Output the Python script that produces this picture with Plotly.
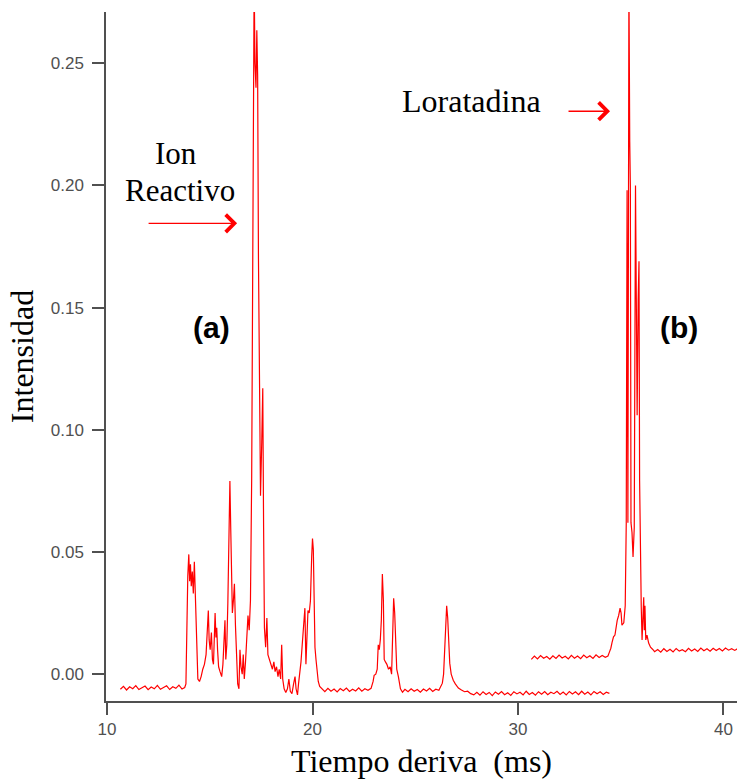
import plotly.graph_objects as go

# ---- Data ----
# Trace (a): ion reactivo spectrum
a_time = [
    10.65, 10.80, 10.95, 11.10, 11.25, 11.40, 11.55, 11.70, 11.85, 12.00, 12.15,
    12.30, 12.45, 12.60, 12.75, 12.90, 13.05, 13.20, 13.35, 13.50, 13.65, 13.78,
    13.84, 13.88, 13.93, 13.98, 14.02, 14.06, 14.10, 14.15, 14.20, 14.25, 14.30,
    14.36, 14.42, 14.50, 14.58, 14.66, 14.74, 14.82, 14.88, 14.93, 14.97, 15.02,
    15.08, 15.13, 15.18, 15.22, 15.26, 15.30, 15.34, 15.38, 15.43, 15.50, 15.58,
    15.64, 15.70, 15.74, 15.78, 15.83, 15.88, 15.93, 15.98, 16.02, 16.06, 16.10,
    16.15, 16.20, 16.25, 16.30, 16.36, 16.42, 16.47, 16.52, 16.58, 16.63, 16.68,
    16.74, 16.80, 16.86, 16.92, 16.98, 17.04, 17.10, 17.16, 17.20, 17.25, 17.29,
    17.33, 17.37, 17.42, 17.47, 17.53, 17.58, 17.62, 17.66, 17.72, 17.78, 17.83,
    17.90, 17.98, 18.05, 18.12, 18.18, 18.25, 18.32, 18.38, 18.45, 18.50, 18.55,
    18.62, 18.70, 18.78, 18.85, 18.92, 19.00, 19.08, 19.15, 19.20, 19.27, 19.32,
    19.38, 19.44, 19.50, 19.57, 19.63, 19.68, 19.73, 19.78, 19.84, 19.90, 19.96,
    20.00, 20.04, 20.08, 20.12, 20.17, 20.22, 20.28, 20.35,
    20.45, 20.60, 20.75, 20.90, 21.05, 21.20, 21.35, 21.50, 21.65, 21.80, 21.95,
    22.10, 22.25, 22.40, 22.55, 22.70, 22.85,
    22.95, 23.00, 23.08, 23.15, 23.20, 23.25, 23.30, 23.35, 23.40, 23.45, 23.49,
    23.55, 23.62, 23.70, 23.78, 23.85, 23.90, 23.95, 24.00, 24.05, 24.10, 24.18,
    24.28, 24.38,
    24.50, 24.65, 24.80, 24.95, 25.10, 25.25, 25.40, 25.55, 25.70, 25.85, 26.00,
    26.15,
    26.25, 26.32, 26.38, 26.43, 26.48, 26.53, 26.58, 26.63, 26.68, 26.75, 26.85,
    26.95, 27.10, 27.25, 27.40, 27.55, 27.70,
    27.85, 28.00, 28.15, 28.30, 28.45, 28.60, 28.75, 28.90, 29.05, 29.20, 29.35,
    29.50, 29.65, 29.80, 29.95, 30.10, 30.25, 30.40, 30.55, 30.70, 30.85, 31.00,
    31.15, 31.30, 31.45, 31.60, 31.75, 31.90, 32.05, 32.20, 32.35, 32.50, 32.65,
    32.80, 32.95, 33.10, 33.25, 33.40, 33.55, 33.70, 33.85, 34.00, 34.15, 34.30,
    34.45,
]
a_intensity = [
    -0.0062, -0.0050, -0.0065, -0.0052, -0.0060, -0.0047, -0.0063, -0.0055, -0.0049, -0.0064, -0.0053,
    -0.0060, -0.0046, -0.0062, -0.0054, -0.0048, -0.0063, -0.0052, -0.0058, -0.0045, -0.0061, -0.0055,
    -0.004, 0.020, 0.040, 0.049, 0.038, 0.045, 0.036, 0.042, 0.033, 0.046, 0.031,
    0.012, -0.002, -0.003, -0.001, 0.002, 0.004, 0.008, 0.016, 0.026, 0.014, 0.010,
    0.017, 0.006, 0.004, 0.014, 0.025, 0.015, 0.019, 0.010, 0.003, 0.001, -0.001,
    0.004, 0.012, 0.022, 0.006, 0.012, 0.029, 0.050, 0.079, 0.060, 0.035, 0.025,
    0.030, 0.037, 0.020, 0.004, -0.004, -0.006, 0.010, 0.003, 0.000, 0.008, -0.002,
    0.005, 0.015, 0.024, 0.018, 0.030, 0.080, 0.200, 0.285, 0.250, 0.240, 0.2635,
    0.245, 0.170, 0.100, 0.073, 0.095, 0.117, 0.060, 0.019, 0.011, 0.023, 0.008,
    0.006, 0.004, 0.002, 0.005, 0.001, 0.003, -0.001, 0.002, -0.002, 0.012, -0.002,
    -0.006, -0.0075, -0.006, -0.002, -0.007, -0.008, -0.004, -0.001, -0.006, -0.0085, -0.004,
    0.000, 0.005, 0.012, 0.020, 0.027, 0.004, 0.015, 0.026, 0.025, 0.030, 0.048,
    0.0555, 0.051, 0.025, 0.011, 0.006, 0.001, -0.003, -0.005,
    -0.0060, -0.0072, -0.0058, -0.0070, -0.0061, -0.0073, -0.0059, -0.0068, -0.0057, -0.0071, -0.0062,
    -0.0069, -0.0056, -0.0070, -0.0060, -0.0066, -0.0058,
    -0.003, -0.0005, 0.000, 0.002, 0.012, 0.010, 0.014, 0.022, 0.041, 0.030, 0.006,
    0.005, 0.004, 0.002, 0.003, 0.000, 0.012, 0.031, 0.025, 0.012, 0.002, -0.001,
    -0.006, -0.0074,
    -0.0062, -0.0072, -0.0060, -0.0070, -0.0063, -0.0074, -0.0061, -0.0069, -0.0058, -0.0071, -0.0062,
    -0.0066,
    -0.005, -0.0037, 0.000, 0.008, 0.020, 0.028, 0.023, 0.012, 0.0045, 0.000, -0.0025,
    -0.004, -0.0057, -0.0065, -0.0072, -0.0070, -0.0080,
    -0.0085, -0.0074, -0.0086, -0.0072, -0.0083, -0.0075, -0.0088, -0.0073, -0.0082, -0.0071, -0.0084,
    -0.0076, -0.0087, -0.0072, -0.0081, -0.0074, -0.0085, -0.0070, -0.0083, -0.0075, -0.0086, -0.0072,
    -0.0082, -0.0071, -0.0084, -0.0074, -0.0080, -0.0070, -0.0083, -0.0073, -0.0085, -0.0071, -0.0081,
    -0.0072, -0.0084, -0.0070, -0.0082, -0.0073, -0.0085, -0.0071, -0.0080, -0.0072, -0.0083, -0.0074,
    -0.0079,
]

# Trace (b): loratadina spectrum
b_time = [
    30.65, 30.80, 30.95, 31.10, 31.25, 31.40, 31.55, 31.70, 31.85, 32.00, 32.15,
    32.30, 32.45, 32.60, 32.75, 32.90, 33.05, 33.20, 33.35, 33.50, 33.65, 33.80,
    33.95, 34.10, 34.25, 34.38,
    34.45, 34.52, 34.58, 34.65, 34.72, 34.78, 34.83, 34.90, 34.97, 35.02, 35.06,
    35.15, 35.22, 35.27, 35.31, 35.35, 35.40, 35.44, 35.47, 35.50, 35.55, 35.60,
    35.66, 35.72, 35.76, 35.80, 35.85, 35.89, 35.92, 35.96, 36.00, 36.04, 36.08,
    36.12, 36.15, 36.18, 36.22, 36.28, 36.36, 36.45, 36.55,
    36.65, 36.80, 36.95, 37.10, 37.25, 37.40, 37.55, 37.70, 37.85, 38.00, 38.15,
    38.30, 38.45, 38.60, 38.75, 38.90, 39.05, 39.20, 39.35, 39.50, 39.65, 39.80,
    39.95, 40.10, 40.25, 40.40, 40.55, 40.70,
]
b_intensity = [
    0.0060, 0.0074, 0.0062, 0.0076, 0.0065, 0.0072, 0.0061, 0.0075, 0.0064, 0.0078, 0.0066,
    0.0073, 0.0062, 0.0077, 0.0065, 0.0074, 0.0063, 0.0078, 0.0067, 0.0075, 0.0064, 0.0079,
    0.0068, 0.0076, 0.0069, 0.0074,
    0.0090, 0.0106, 0.0130, 0.0153, 0.0160, 0.0200, 0.0220, 0.0240, 0.0270, 0.0250, 0.0200,
    0.0210, 0.0280, 0.0620, 0.1980, 0.0620, 0.2850, 0.2180, 0.2000, 0.0620, 0.0580, 0.0480,
    0.0600, 0.2000, 0.1300, 0.1060, 0.1530, 0.1690, 0.0790, 0.0440, 0.0275, 0.0140, 0.0270,
    0.0315, 0.0180, 0.0280, 0.0140, 0.0160, 0.0127, 0.0110, 0.0102,
    0.0092, 0.0101, 0.0090, 0.0104, 0.0093, 0.0102, 0.0091, 0.0105, 0.0094, 0.0100, 0.0092,
    0.0106, 0.0095, 0.0103, 0.0093, 0.0107, 0.0096, 0.0104, 0.0094, 0.0106, 0.0097, 0.0105,
    0.0095, 0.0107, 0.0098, 0.0104, 0.0097, 0.0105,
]

x_ticks = [10, 20, 30, 40]
y_ticks = [0.00, 0.05, 0.10, 0.15, 0.20, 0.25]

RED = "#ff0000"
SERIF = "Liberation Serif, Times New Roman, serif"
SANS = "Liberation Sans, Arial, sans-serif"

fig = go.Figure()
fig.add_trace(go.Scatter(x=a_time, y=a_intensity, mode="lines",
                         line=dict(color=RED, width=1.2), name="(a)"))
fig.add_trace(go.Scatter(x=b_time, y=b_intensity, mode="lines",
                         line=dict(color=RED, width=1.2), name="(b)"))

axis_common = dict(
    showline=True, linecolor="#505050", linewidth=1.5, mirror=False,
    ticks="outside", ticklen=12, tickwidth=1.5, tickcolor="#505050",
    showgrid=False, zeroline=False,
    tickfont=dict(family=SANS, size=17, color="#505050"),
)

fig.update_layout(
    width=737, height=780,
    margin=dict(l=106, r=0, t=12, b=79),
    plot_bgcolor="white", paper_bgcolor="white",
    showlegend=False,
    xaxis=dict(range=[9.95, 40.66], tickvals=x_ticks,
               title=dict(text="Tiempo deriva&nbsp; (ms)", standoff=11,
                          font=dict(family=SERIF, size=32, color="black")),
               automargin=False, **axis_common),
    yaxis=dict(range=[-0.011, 0.271], tickvals=y_ticks, tickformat=".2f",
               ticklabelstandoff=5,
               title=dict(text="Intensidad", standoff=8,
                          font=dict(family=SERIF, size=32, color="black")),
               automargin=False, **axis_common),
)

# Text labels
labels = [
    dict(x=13.36, y=0.2132, text="Ion", font=dict(family=SERIF, size=31, color="black")),
    dict(x=13.55, y=0.1980, text="Reactivo", font=dict(family=SERIF, size=31, color="black")),
    dict(x=27.76, y=0.2345, text="Loratadina", font=dict(family=SERIF, size=32, color="black")),
    dict(x=15.06, y=0.1420, text="<b>(a)</b>", font=dict(family=SANS, size=30, color="black")),
    dict(x=37.83, y=0.1420, text="<b>(b)</b>", font=dict(family=SANS, size=30, color="black")),
]
for lab in labels:
    fig.add_annotation(xref="x", yref="y", showarrow=False,
                       xanchor="center", yanchor="middle", **lab)

# Arrows
arrows = [
    dict(x=16.33, y=0.1845, ax=-90),
    dict(x=34.48, y=0.2304, ax=-43),
]
for ar in arrows:
    fig.add_annotation(xref="x", yref="y", text="", showarrow=True,
                       ay=0, arrowhead=4, arrowsize=2.4, arrowwidth=1.4,
                       arrowcolor=RED, **ar)

fig.write_html("out.html", config={"displayModeBar": False},
               post_script="document.body.style.margin='0';document.body.style.overflow='hidden';")
